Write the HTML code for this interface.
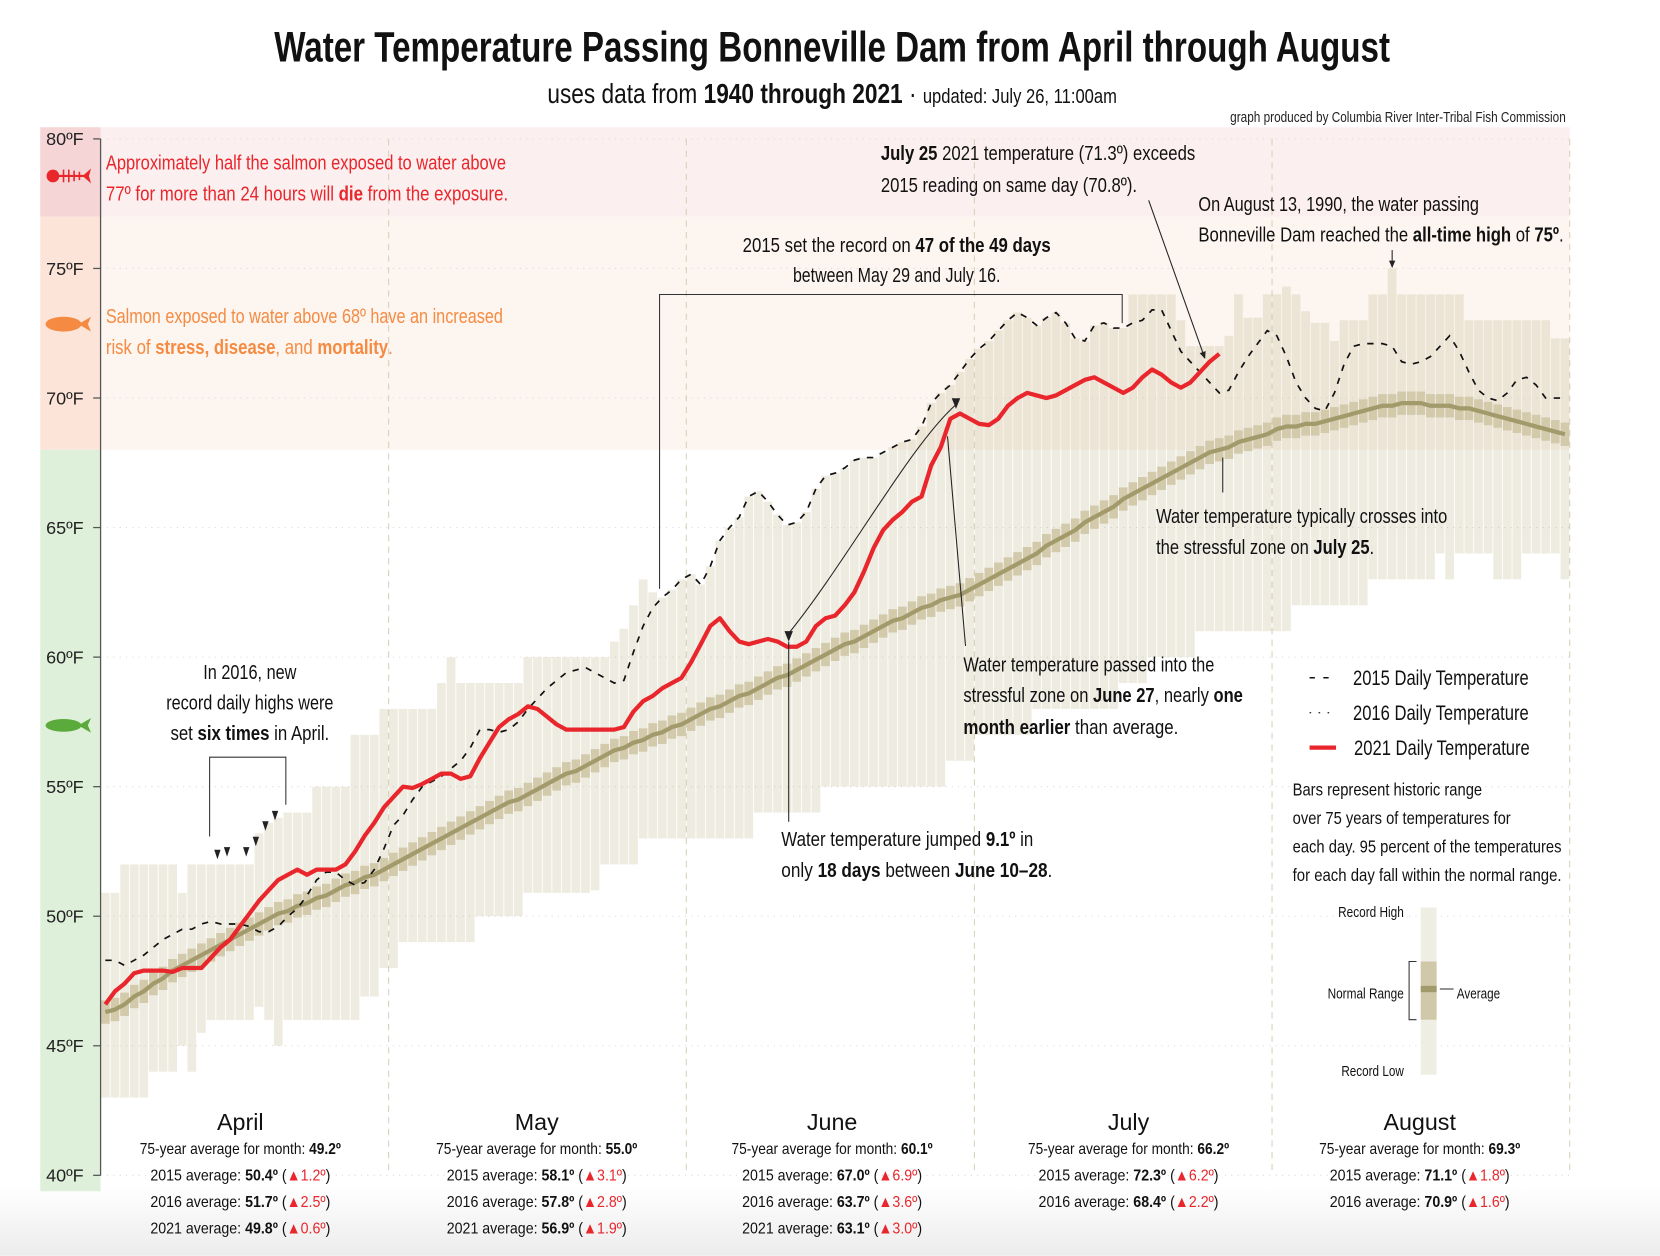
<!DOCTYPE html>
<html><head><meta charset="utf-8"><style>
html,body{margin:0;padding:0;background:#fff;}
svg{display:block;font-family:"Liberation Sans Narrow","Liberation Sans",sans-serif;}
.b{font-weight:bold}
</style></head><body>
<svg id="chart" width="1660" height="1256" viewBox="0 0 1568 1186" xmlns="http://www.w3.org/2000/svg">
<defs>
<linearGradient id="bottomFade" x1="0" y1="0" x2="0" y2="1"><stop offset="0" stop-color="#fff"/><stop offset="1" stop-color="#ececec"/></linearGradient>
<marker id="ah" markerWidth="8" markerHeight="8" refX="6" refY="4" orient="auto" markerUnits="userSpaceOnUse"><path d="M0,1 L7,4 L0,7 z" fill="#222"/></marker>
</defs>
<rect x="0" y="1120" width="1568" height="66" fill="url(#bottomFade)"/>
<g id="bands"></g>
<g id="grid"></g>
<g id="bars"></g>
<g id="lines"></g>
<g id="axis"></g>

<text x="786" y="58" text-anchor="middle" font-size="40" font-weight="bold" textLength="1054" lengthAdjust="spacingAndGlyphs" fill="#111">Water Temperature Passing Bonneville Dam from April through August</text>
<text x="517" y="97" font-size="26" fill="#111" textLength="538" lengthAdjust="spacingAndGlyphs">uses data from <tspan class="b">1940 through 2021</tspan> · <tspan font-size="19">updated: July 26, 11:00am</tspan></text>
<text x="1479" y="115" text-anchor="end" font-size="13.5" fill="#222" textLength="317" lengthAdjust="spacingAndGlyphs">graph produced by Columbia River Inter-Tribal Fish Commission</text>

<g fill="#e8262c" font-size="19.5">
<text x="100" y="160" textLength="378" lengthAdjust="spacingAndGlyphs">Approximately half the salmon exposed to water above</text>
<text x="100" y="189" textLength="380" lengthAdjust="spacingAndGlyphs">77º for more than 24 hours will <tspan class="b">die</tspan> from the exposure.</text>
</g>
<g fill="#f58b42" font-size="19.5">
<text x="100" y="305" textLength="375" lengthAdjust="spacingAndGlyphs">Salmon exposed to water above 68º have an increased</text>
<text x="100" y="334" textLength="271" lengthAdjust="spacingAndGlyphs">risk of <tspan class="b">stress, disease</tspan>, and <tspan class="b">mortality</tspan>.</text>
</g>

<g fill="#e8262c" stroke="#e8262c">
<circle cx="50" cy="166" r="6" stroke="none"/><line x1="54" y1="166" x2="80" y2="166" stroke-width="2"/>
<path d="M60,160 v12 M65,160 v12 M70,161 v10 M75,162 v8" stroke-width="1.5" fill="none"/>
<path d="M78,166 L86,159 L84,166 L86,173 z" stroke="none"/></g>
<g fill="#f58b42"><ellipse cx="60" cy="306" rx="17" ry="7"/><path d="M74,306 L86,299 L83,306 L86,313 z"/></g>
<g fill="#5aaa3c"><ellipse cx="60" cy="685" rx="17" ry="6"/><path d="M74,685 L86,678 L83,685 L86,692 z"/></g>

<g font-size="19.5" fill="#111">
<text x="832" y="151" textLength="297" lengthAdjust="spacingAndGlyphs"><tspan class="b">July 25</tspan> 2021 temperature (71.3º) exceeds</text>
<text x="832" y="181" textLength="242" lengthAdjust="spacingAndGlyphs">2015 reading on same day (70.8º).</text>
<line x1="1085" y1="189" x2="1138" y2="338" stroke="#222" stroke-width="1" marker-end="url(#ah)"/>
<text x="1132" y="199" textLength="265" lengthAdjust="spacingAndGlyphs">On August 13, 1990, the water passing</text>
<text x="1132" y="228" textLength="345" lengthAdjust="spacingAndGlyphs">Bonneville Dam reached the <tspan class="b">all-time high</tspan> of <tspan class="b">75º</tspan>.</text>
<line x1="1315" y1="236" x2="1315" y2="252" stroke="#222" stroke-width="1" marker-end="url(#ah)"/>
<text x="847" y="238" text-anchor="middle" textLength="291" lengthAdjust="spacingAndGlyphs">2015 set the record on <tspan class="b">47 of the 49 days</tspan></text>
<text x="847" y="266" text-anchor="middle" textLength="196" lengthAdjust="spacingAndGlyphs">between May 29 and July 16.</text>
<path d="M623,556 V278 H1060 V305" fill="none" stroke="#333" stroke-width="1"/>
<text x="236" y="641" text-anchor="middle" textLength="88" lengthAdjust="spacingAndGlyphs">In 2016, new</text>
<text x="236" y="670" text-anchor="middle" textLength="158" lengthAdjust="spacingAndGlyphs">record daily highs were</text>
<text x="236" y="699" text-anchor="middle" textLength="150" lengthAdjust="spacingAndGlyphs">set <tspan class="b">six times</tspan> in April.</text>
<path d="M198,790 V715 H270 V760" fill="none" stroke="#333" stroke-width="1"/>
<text x="910" y="634" textLength="237" lengthAdjust="spacingAndGlyphs">Water temperature passed into the</text>
<text x="910" y="663" textLength="264" lengthAdjust="spacingAndGlyphs">stressful zone on <tspan class="b">June 27</tspan>, nearly <tspan class="b">one</tspan></text>
<text x="910" y="693" textLength="203" lengthAdjust="spacingAndGlyphs"><tspan class="b">month earlier</tspan> than average.</text>
<line x1="912" y1="610" x2="895" y2="412" stroke="#222" stroke-width="1"/>
<path d="M745,598 C800,530 860,420 903,382" fill="none" stroke="#222" stroke-width="1"/>
<path d="M741,596 L749,596 L745,606 z M899,376 L907,376 L903,386 z" fill="#222"/>
<line x1="745" y1="606" x2="745" y2="776" stroke="#222" stroke-width="1"/>
<text x="738" y="799" textLength="238" lengthAdjust="spacingAndGlyphs">Water temperature jumped <tspan class="b">9.1º</tspan> in</text>
<text x="738" y="828" textLength="256" lengthAdjust="spacingAndGlyphs">only <tspan class="b">18 days</tspan> between <tspan class="b">June 10–28</tspan>.</text>
<line x1="1155" y1="432" x2="1155" y2="465" stroke="#222" stroke-width="1"/>
<text x="1092" y="494" textLength="275" lengthAdjust="spacingAndGlyphs">Water temperature typically crosses into</text>
<text x="1092" y="523" textLength="206" lengthAdjust="spacingAndGlyphs">the stressful zone on <tspan class="b">July 25</tspan>.</text>
</g>

<g font-size="20" fill="#111">
<g><line x1="1237" y1="640" x2="1258" y2="640" stroke="#111" stroke-width="1.5" stroke-dasharray="5,8"/><text x="1278" y="647" textLength="166" lengthAdjust="spacingAndGlyphs">2015 Daily Temperature</text></g>
<g><line x1="1237" y1="673" x2="1258" y2="673" stroke="#333" stroke-width="1.2" stroke-dasharray="1.5,7"/><text x="1278" y="680" textLength="166" lengthAdjust="spacingAndGlyphs">2016 Daily Temperature</text></g>
<g><line x1="1237" y1="706" x2="1262" y2="706" stroke="#e8262c" stroke-width="4"/><text x="1279" y="713" textLength="166" lengthAdjust="spacingAndGlyphs">2021 Daily Temperature</text></g>
<g font-size="17">
<text x="1221" y="751" textLength="179" lengthAdjust="spacingAndGlyphs">Bars represent historic range</text>
<text x="1221" y="778" textLength="206" lengthAdjust="spacingAndGlyphs">over 75 years of temperatures for</text>
<text x="1221" y="805" textLength="254" lengthAdjust="spacingAndGlyphs">each day. 95 percent of the temperatures</text>
<text x="1221" y="832" textLength="254" lengthAdjust="spacingAndGlyphs">for each day fall within the normal range.</text>
</g>
<g font-size="14">
<rect x="1342" y="857" width="15" height="158" fill="#efeee5"/>
<rect x="1342" y="908" width="15" height="55" fill="#d0c8a8"/>
<rect x="1342" y="931" width="15" height="6" fill="#a39a6c"/>
<text x="1326" y="866" text-anchor="end" textLength="62" lengthAdjust="spacingAndGlyphs">Record High</text>
<text x="1326" y="943" text-anchor="end" textLength="72" lengthAdjust="spacingAndGlyphs">Normal Range</text>
<text x="1376" y="943" textLength="41" lengthAdjust="spacingAndGlyphs">Average</text>
<text x="1326" y="1016" text-anchor="end" textLength="59" lengthAdjust="spacingAndGlyphs">Record Low</text>
<path d="M1338,908 H1331 V963 H1338" fill="none" stroke="#333" stroke-width="1"/>
<line x1="1360" y1="934" x2="1373" y2="934" stroke="#333" stroke-width="1"/>
</g>
</g>

<g font-size="15" fill="#111" text-anchor="middle">
<g><text x="227" y="1067" font-size="22">April</text>
<text x="227" y="1090" textLength="190" lengthAdjust="spacingAndGlyphs">75-year average for month: <tspan class="b">49.2º</tspan></text>
<text x="227" y="1115" textLength="170" lengthAdjust="spacingAndGlyphs">2015 average: <tspan class="b">50.4º</tspan> (<tspan fill="#e8262c">▲1.2º</tspan>)</text>
<text x="227" y="1140" textLength="170" lengthAdjust="spacingAndGlyphs">2016 average: <tspan class="b">51.7º</tspan> (<tspan fill="#e8262c">▲2.5º</tspan>)</text>
<text x="227" y="1165" textLength="170" lengthAdjust="spacingAndGlyphs">2021 average: <tspan class="b">49.8º</tspan> (<tspan fill="#e8262c">▲0.6º</tspan>)</text></g>
<g><text x="507" y="1067" font-size="22">May</text>
<text x="507" y="1090" textLength="190" lengthAdjust="spacingAndGlyphs">75-year average for month: <tspan class="b">55.0º</tspan></text>
<text x="507" y="1115" textLength="170" lengthAdjust="spacingAndGlyphs">2015 average: <tspan class="b">58.1º</tspan> (<tspan fill="#e8262c">▲3.1º</tspan>)</text>
<text x="507" y="1140" textLength="170" lengthAdjust="spacingAndGlyphs">2016 average: <tspan class="b">57.8º</tspan> (<tspan fill="#e8262c">▲2.8º</tspan>)</text>
<text x="507" y="1165" textLength="170" lengthAdjust="spacingAndGlyphs">2021 average: <tspan class="b">56.9º</tspan> (<tspan fill="#e8262c">▲1.9º</tspan>)</text></g>
<g><text x="786" y="1067" font-size="22">June</text>
<text x="786" y="1090" textLength="190" lengthAdjust="spacingAndGlyphs">75-year average for month: <tspan class="b">60.1º</tspan></text>
<text x="786" y="1115" textLength="170" lengthAdjust="spacingAndGlyphs">2015 average: <tspan class="b">67.0º</tspan> (<tspan fill="#e8262c">▲6.9º</tspan>)</text>
<text x="786" y="1140" textLength="170" lengthAdjust="spacingAndGlyphs">2016 average: <tspan class="b">63.7º</tspan> (<tspan fill="#e8262c">▲3.6º</tspan>)</text>
<text x="786" y="1165" textLength="170" lengthAdjust="spacingAndGlyphs">2021 average: <tspan class="b">63.1º</tspan> (<tspan fill="#e8262c">▲3.0º</tspan>)</text></g>
<g><text x="1066" y="1067" font-size="22">July</text>
<text x="1066" y="1090" textLength="190" lengthAdjust="spacingAndGlyphs">75-year average for month: <tspan class="b">66.2º</tspan></text>
<text x="1066" y="1115" textLength="170" lengthAdjust="spacingAndGlyphs">2015 average: <tspan class="b">72.3º</tspan> (<tspan fill="#e8262c">▲6.2º</tspan>)</text>
<text x="1066" y="1140" textLength="170" lengthAdjust="spacingAndGlyphs">2016 average: <tspan class="b">68.4º</tspan> (<tspan fill="#e8262c">▲2.2º</tspan>)</text></g>
<g><text x="1341" y="1067" font-size="22">August</text>
<text x="1341" y="1090" textLength="190" lengthAdjust="spacingAndGlyphs">75-year average for month: <tspan class="b">69.3º</tspan></text>
<text x="1341" y="1115" textLength="170" lengthAdjust="spacingAndGlyphs">2015 average: <tspan class="b">71.1º</tspan> (<tspan fill="#e8262c">▲1.8º</tspan>)</text>
<text x="1341" y="1140" textLength="170" lengthAdjust="spacingAndGlyphs">2016 average: <tspan class="b">70.9º</tspan> (<tspan fill="#e8262c">▲1.6º</tspan>)</text></g>
</g>
</svg>
<script>
const yTicks = [40,45,50,55,60,65,70,75,80];
const monthStarts = [0,30,61,91,122,153];
const record2016Markers = [12,13,15,16,17,18];
const record2016Values = [52.2,52.3,52.3,52.7,53.3,53.7];
const avgTemp = [46.3,46.4,46.6,46.9,47.1,47.4,47.6,47.9,48.1,48.3,48.5,48.7,48.9,49.1,49.3,49.5,49.7,49.9,50.1,50.2,50.4,50.5,50.7,50.8,51.0,51.2,51.3,51.5,51.6,51.8,
52.0,52.2,52.4,52.6,52.8,53.0,53.2,53.4,53.6,53.8,54.0,54.2,54.4,54.5,54.7,54.9,55.1,55.3,55.5,55.6,55.8,56.0,56.2,56.4,56.5,56.7,56.8,57.0,57.1,57.3,57.4,
57.6,57.8,58.0,58.1,58.3,58.5,58.6,58.8,59.0,59.2,59.3,59.5,59.7,59.9,60.1,60.3,60.5,60.6,60.8,61.0,61.2,61.4,61.5,61.7,61.9,62.0,62.2,62.3,62.4,62.6,
62.8,63.0,63.2,63.4,63.6,63.8,64.0,64.3,64.5,64.7,64.9,65.2,65.4,65.6,65.8,66.1,66.3,66.5,66.7,66.9,67.1,67.3,67.5,67.7,67.9,68.0,68.1,68.3,68.4,68.5,68.6,
68.8,68.9,68.9,69.0,69.0,69.1,69.2,69.3,69.4,69.5,69.6,69.7,69.7,69.8,69.8,69.8,69.7,69.7,69.7,69.6,69.6,69.5,69.4,69.3,69.2,69.1,69.0,68.9,68.8,68.7,68.6];
const normalHalfRange = 0.45;
const recordHigh = [50.9,50.9,52,52,52,52,52,52,50.9,52,52,52,52,52,52,52,53.2,53.6,53.8,54,54,54,55,55,55,55,57,57,57,58,
58,58,58,58,58,59,60,59,59,59,59,59,59,59,60,60,60,60,60,60,60,60,60,60.6,61.1,62,63,62.5,
62.3,62.6,63.0,63.2,62.8,63.5,64.5,65.0,65.4,66.2,66.4,66.0,65.5,65.1,65.2,65.6,66.5,67.0,67.1,67.3,67.6,67.7,67.7,67.9,68.1,68.3,68.4,68.9,69.8,70.2,70.5,71.0,71.5,71.9,72.2,72.6,73.0,73.3,73.1,72.8,73.1,73.3,72.9,72.3,72.2,72.8,72.9,72.7,72.7,
74,74,74,74,74,73,72,72,72,72,72.4,74,73.1,73.1,74,74,74.3,74,73.35,72.9,72.9,72.2,73,73,73,74,74,75,74,74,74,74,74,74,74,73,73,73,73,73,73,73,73,73,72.3,72.3];
const recordLow = [43,43,43,43,43,44,44,44,45,44,45.5,46,46,46,46,46,46.5,46,45,46,46,46,46,46,46,46,46,46.9,46.9,48,
48,49,49,49,49,49,49,49,49,50,50,50,50,50,50.9,50.9,50.9,50.9,50.9,50.9,50.9,51,52,52,52,52,
53,53,53,53,53,53,53,53,53,53,53,53,54,54,54,54,54,54,54,55,55,55,55,55,55,55,55,55,55,55,55,55,
56,56,56,57,57,57,57,57,57,58,58,58,58,58,58,58,58,58,59,59,59,60,60,60,60,60,
61,61,61,61,61,61,61,61,61,61,62,62,62,62,62,62,62,62,63,63,63,63,63,63,63,64,63,64,64,64,64,63,63,63,64,64,64,64,63];
const temp2015 = [48.3,48.3,48.1,48.3,48.5,48.8,49.1,49.3,49.5,49.5,49.7,49.8,49.7,49.7,49.7,49.6,49.4,49.4,49.6,50.0,50.3,50.8,51.4,51.7,51.7,51.4,51.2,51.3,51.8,52.6,
53.5,53.9,54.5,55.0,55.2,55.4,55.7,56.0,56.5,57.2,57.2,57.1,57.2,57.5,58.0,58.4,58.8,59.1,59.4,59.5,59.6,59.4,59.2,59.0,59.1,60.2,61.2,61.9,
62.3,62.6,63.0,63.2,62.8,63.5,64.5,65.0,65.4,66.2,66.4,66.0,65.5,65.1,65.2,65.6,66.5,67.0,67.1,67.3,67.6,67.7,67.7,67.9,68.1,68.3,68.4,68.9,69.8,70.2,70.5,71.0,71.5,71.9,72.2,72.6,73.0,73.3,73.1,72.8,73.1,73.3,72.9,72.3,72.2,72.8,72.9,72.7,72.7,
72.9,73.0,73.4,73.4,72.6,71.8,71.4,71.0,70.6,70.2,70.3,71.0,71.6,72.1,72.6,72.4,71.6,70.6,70.0,69.6,69.5,70.2,71.3,72.0,72.1,72.1,72.1,72.0,71.4,71.3,71.4,71.6,72.0,72.4,71.8,71.0,70.3,70.0,69.9,70.2,70.7,70.8,70.5,70.0,70.0,70.0];
const temp2021 = [46.6,47.1,47.4,47.8,47.9,47.9,47.9,47.85,48.0,48.0,48.0,48.4,48.8,49.1,49.6,50.1,50.6,51.0,51.4,51.6,51.8,51.6,51.8,51.8,51.8,52.0,52.5,53.1,53.6,54.2,
54.6,55.0,54.95,55.1,55.3,55.5,55.5,55.3,55.4,56.1,56.7,57.3,57.6,57.8,58.1,58.0,57.7,57.4,57.2,57.2,57.2,57.2,57.2,57.2,57.3,57.9,58.3,58.5,58.8,59.0,
59.2,59.8,60.5,61.2,61.5,61.0,60.6,60.5,60.6,60.7,60.6,60.4,60.4,60.6,61.2,61.5,61.6,62.0,62.5,63.3,64.2,64.9,65.3,65.6,66.0,66.2,67.4,68.1,69.2,69.4,
69.2,69.0,68.95,69.2,69.7,70.0,70.2,70.1,70.0,70.1,70.3,70.5,70.7,70.8,70.6,70.4,70.2,70.4,70.8,71.1,70.9,70.6,70.4,70.6,71.0,71.4,71.7];

const NS = 'http://www.w3.org/2000/svg';
const X0 = 95, DAYW = 9.07;
function xL(d){ return X0 + d*DAYW; }
function xC(d){ return X0 + (d+0.5)*DAYW; }
function yS(t){ return 131 + (80 - t)*24.475; }
function mk(tag, attrs, parent){ const e=document.createElementNS(NS,tag); for(const k in attrs) e.setAttribute(k,attrs[k]); parent.appendChild(e); return e; }
const XR = xL(153);

const bands = document.getElementById('bands');
let r;
r = mk('rect',{x:X0,y:120,width:XR-X0,height:yS(77)-120,fill:'#fcefef'},bands);


r = mk('rect',{x:X0,y:yS(77),width:XR-X0,height:yS(68)-yS(77),fill:'#fdf5f0'},bands);


r = mk('rect',{x:38,y:120,width:X0-38,height:yS(77)-120,fill:'#f6d5d6'},bands);


r = mk('rect',{x:38,y:yS(77),width:X0-38,height:yS(68)-yS(77),fill:'#fde4d9'},bands);


r = mk('rect',{x:38,y:yS(68),width:X0-38,height:1125-yS(68),fill:'#dff0da'},bands);



const grid = document.getElementById('grid');
yTicks.forEach(t=>{
  const l = mk('line',{x1:X0,x2:XR,y1:yS(t),y2:yS(t),stroke:'#d9d9d9','stroke-width':1,'stroke-dasharray':'1,5'},grid);
  
  
});
monthStarts.slice(1).forEach((d,i)=>{
  const l = mk('line',{x1:xL(d),x2:xL(d),y1:131,y2:1105,stroke:'#d9d0b8','stroke-width':1,'stroke-dasharray':'6,5'},grid);
  
  
});

const bars = document.getElementById('bars');
for(let d=0; d<recordHigh.length; d++){
  const b = mk('rect',{x:xL(d)+0.4,width:DAYW-0.8,y:yS(recordHigh[d]),height:yS(recordLow[d])-yS(recordHigh[d]),fill:'rgba(185,175,130,0.24)'},bars);
  
  
  const n = mk('rect',{x:xL(d)+0.4,width:DAYW-0.8,y:yS(avgTemp[d]+normalHalfRange),height:yS(avgTemp[d]-normalHalfRange)-yS(avgTemp[d]+normalHalfRange),fill:'#d2caab'},bars);
  
  
}

const lines = document.getElementById('lines');
function pts(arr){ return arr.map((v,i)=>xC(i).toFixed(1)+','+yS(v).toFixed(1)).join(' '); }
let p;
p = mk('polyline',{points:pts(avgTemp),fill:'none',stroke:'#a39a6c','stroke-width':4,'stroke-linejoin':'round'},lines);


p = mk('polyline',{points:pts(temp2015),fill:'none',stroke:'#111','stroke-width':1.6,'stroke-dasharray':'6,7'},lines);


p = mk('polyline',{points:pts(temp2021),fill:'none',stroke:'#e8262c','stroke-width':4,'stroke-linejoin':'round'},lines);


record2016Markers.forEach((d,i)=>{
  const x = xC(d)-3, y = yS(record2016Values[i]);
  const m = mk('path',{d:'M'+(x-3)+','+(y-9)+' L'+(x+3)+','+(y-9)+' L'+x+','+y+' z',fill:'#222'},lines);
  
  
});

const axis = document.getElementById('axis');
let al = mk('line',{x1:X0,x2:X0,y1:yS(80),y2:yS(40),stroke:'#555','stroke-width':1.2},axis);


yTicks.forEach(t=>{
  const tk = mk('line',{x1:X0-7,x2:X0,y1:yS(t),y2:yS(t),stroke:'#555','stroke-width':1.2},axis);
  
  
  const tx = mk('text',{x:79,y:yS(t)+6,'text-anchor':'end','font-size':17,fill:'#222'},axis);
  tx.textContent = t+'ºF';
  
  
});
</script>
</body></html>
